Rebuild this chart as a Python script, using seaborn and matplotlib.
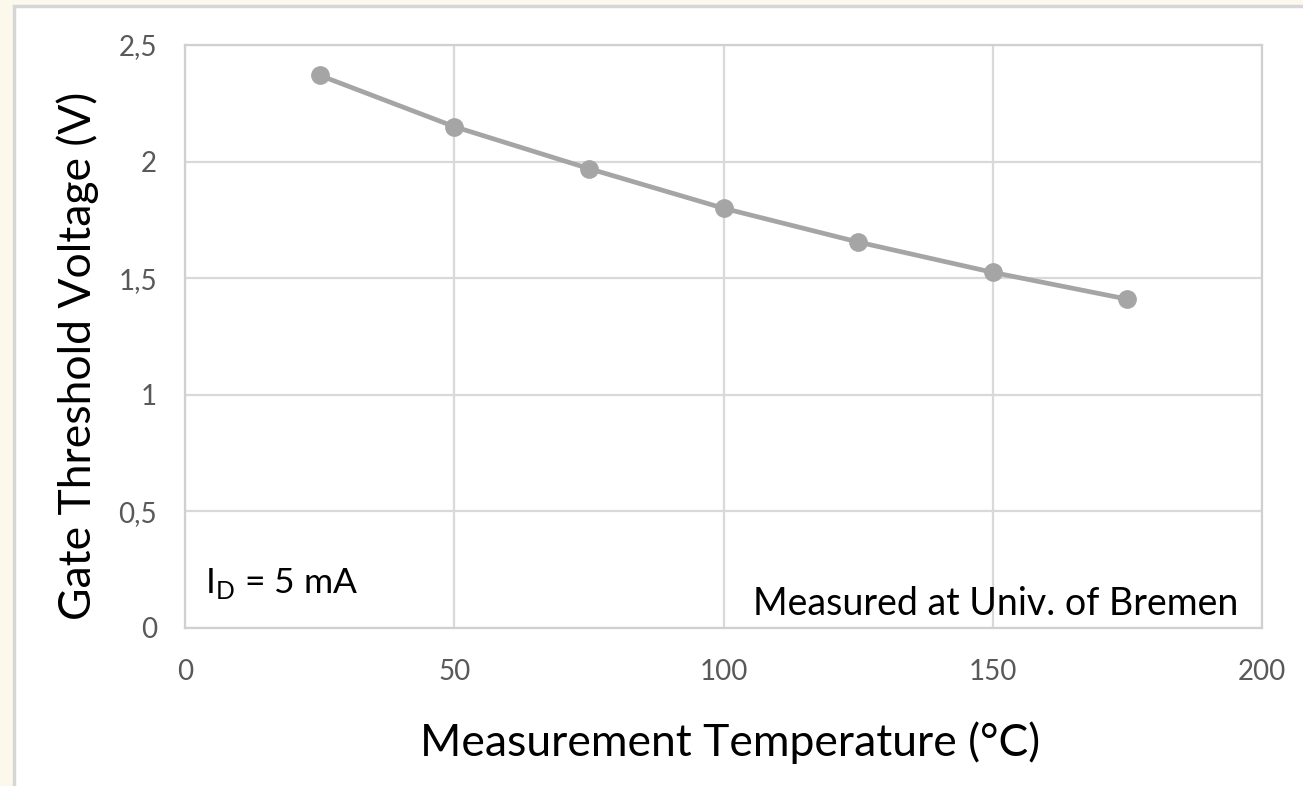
import matplotlib
matplotlib.use("Agg")
import matplotlib.pyplot as plt
import matplotlib.patches as mpatches
import seaborn as sns

# data
temperature = [25, 50, 75, 100, 125, 150, 175]
threshold_v = [2.37, 2.15, 1.97, 1.80, 1.655, 1.525, 1.41]
x_ticks = [0, 50, 100, 150, 200]
y_ticks = [0, 0.5, 1, 1.5, 2, 2.5]
y_tick_labels = ["0", "0,5", "1", "1,5", "2", "2,5"]

sns.set_theme(style="white")
plt.rcParams["font.family"] = ["Lato", "DejaVu Sans"]

fig = plt.figure(figsize=(13.03, 7.86), dpi=100)
fig.patch.set_facecolor("#FCF8EC")

# white chart panel with a thin grey border (drawn underneath the axes)
panel = mpatches.Rectangle((14 / 1303, -0.05), 1.05, 1 - 6 / 786 + 0.05,
                           transform=fig.transFigure, facecolor="white",
                           edgecolor="#D6D6D6", linewidth=2.5, zorder=-5)
fig.patches.append(panel)

ax = fig.add_axes([185 / 1303, 1 - 628 / 786, 1077 / 1303, 583 / 786])
ax.set_zorder(1)
ax.set_facecolor("white")

sns.lineplot(x=temperature, y=threshold_v, ax=ax, color="#A5A5A5",
             linewidth=3.4, marker="o", markersize=13.5,
             markeredgewidth=0, markerfacecolor="#A5A5A5")

ax.set_xlim(0, 200)
ax.set_ylim(0, 2.5)
ax.set_xticks(x_ticks)
ax.set_yticks(y_ticks)
ax.set_yticklabels(y_tick_labels)
ax.tick_params(axis="both", length=0, labelsize=20, labelcolor="#595959")
ax.tick_params(axis="x", pad=22)
ax.tick_params(axis="y", pad=20)

ax.grid(True, color="#D9D9D9", linewidth=1.6)
ax.set_axisbelow(True)
for s in ax.spines.values():
    s.set_visible(True)
    s.set_color("#D0D0D0")
    s.set_linewidth(1.6)

ax.set_xlabel("Measurement Temperature (\u00b0C)", fontsize=32, color="black",
              va="baseline")
ax.xaxis.set_label_coords(0.506, -0.2196)
ax.set_ylabel("Gate Threshold Voltage (V)", fontsize=32, color="black",
              va="center")
ax.yaxis.set_label_coords(-0.0994, 0.4666)

ax.text(0.0186, 0.060, r"I$_{\mathregular{D}}$ = 5 mA", transform=ax.transAxes,
        fontsize=25.5, color="black", ha="left", va="baseline")
ax.text(0.978, 0.022, "Measured at Univ. of Bremen", transform=ax.transAxes,
        fontsize=27, color="black", ha="right", va="baseline")

fig.savefig("out.png", dpi=100, facecolor=fig.get_facecolor())
